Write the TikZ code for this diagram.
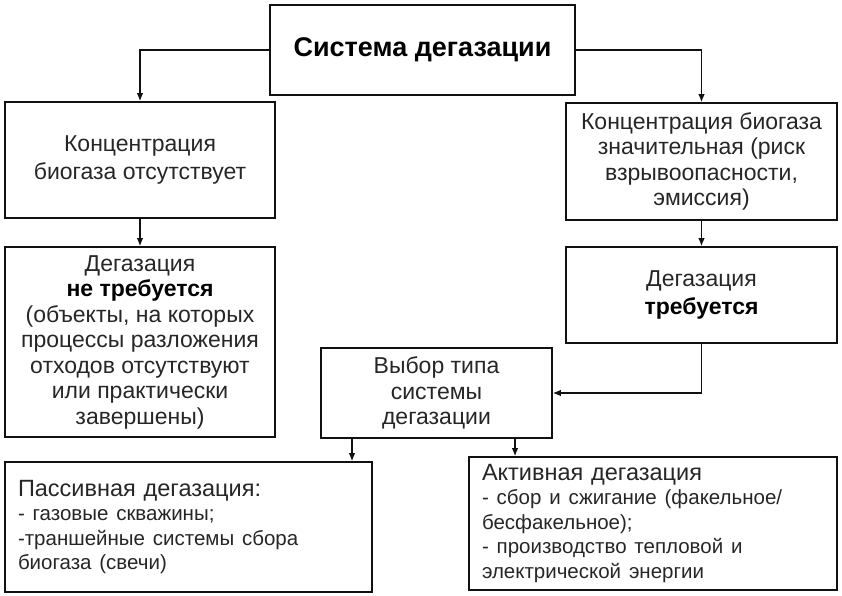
\documentclass[tikz,border=0pt]{standalone}
\usepackage{fontspec}
\setmainfont{Liberation Sans}
\usetikzlibrary{arrows.meta}
\definecolor{ink}{HTML}{111111}
\definecolor{txt}{HTML}{262626}

\begin{document}
\begin{tikzpicture}[
    x=1pt, y=-1pt,
    every node/.style={text=txt},
    box/.style={draw=ink, line width=1.6pt, align=center, inner sep=0pt,
        font=\fontsize{23}{25.5}\selectfont},
    note/.style={box, align=left, text width=#1,
        font=\fontsize{23.5}{24.5}\selectfont},
    item/.style={},
    link/.style={ink, line width=1.3pt, -{Latex[length=8pt, width=6.5pt]}},
]
\useasboundingbox (0, 0) rectangle (842, 596);

% ---------------- top
\node[box, font=\bfseries\fontsize{27}{32}\selectfont, text=black,
    minimum width=305pt, minimum height=90pt] (sys) at (422.5, 50) {Система дегазации};

% ---------------- left branch
\node[box, minimum width=270pt, minimum height=116pt] (none) at (140, 160)
    {Концентрация\\[2pt]биогаза отсутствует};
\node[box, minimum width=270pt, minimum height=190pt] (notreq) at (140, 342)
    {Дегазация\\\textbf{\color{black}не требуется}\\(объекты, на которых\\процессы разложения\\отходов отсутствуют\\или практически\\завершены)};

% ---------------- right branch
\node[box, minimum width=271pt, minimum height=117pt] (high) at (701.5, 161.5)
    {Концентрация биогаза\\значительная (риск\\взрывоопасности,\\эмиссия)};
\node[box, minimum width=271pt, minimum height=96pt] (req) at (701.5, 295)
    {Дегазация\\[2pt]\textbf{\color{black}требуется}};

% ---------------- choice and the two kinds
\node[box, minimum width=231pt, minimum height=90pt] (choice) at (436.5, 393)
    {Выбор типа\\системы\\дегазации};
\node[note=341pt, minimum width=367pt, minimum height=130pt] (passive) at (188.5, 527)
    {Пассивная дегазация:\\\fontsize{20.5}{24.5}\selectfont - газовые скважины;\\-траншейные системы сбора\\биогаза (свечи)};
\node[note=342pt, minimum width=368pt, minimum height=133pt] (active) at (653, 523.5)
    {Активная дегазация\\\fontsize{20.5}{24.5}\selectfont - сбор и сжигание (факельное/\\бесфакельное);\\- производство тепловой и\\электрической энергии};

% the links
\draw[link] (sys.west) -| (none.north);
\draw[link] (sys.east) -| (high.north);
\draw[link] (none.south) -- (notreq.north);
\draw[link] (high.south) -- (req.north);
\draw[link] (req.south) |- (choice.east);
\coordinate (pdrop) at (352, 0);
\coordinate (adrop) at (515, 0);
\draw[link] (choice.south -| pdrop) -- (passive.north -| pdrop);
\draw[link] (choice.south -| adrop) -- (active.north -| adrop);
\end{tikzpicture}
\end{document}
